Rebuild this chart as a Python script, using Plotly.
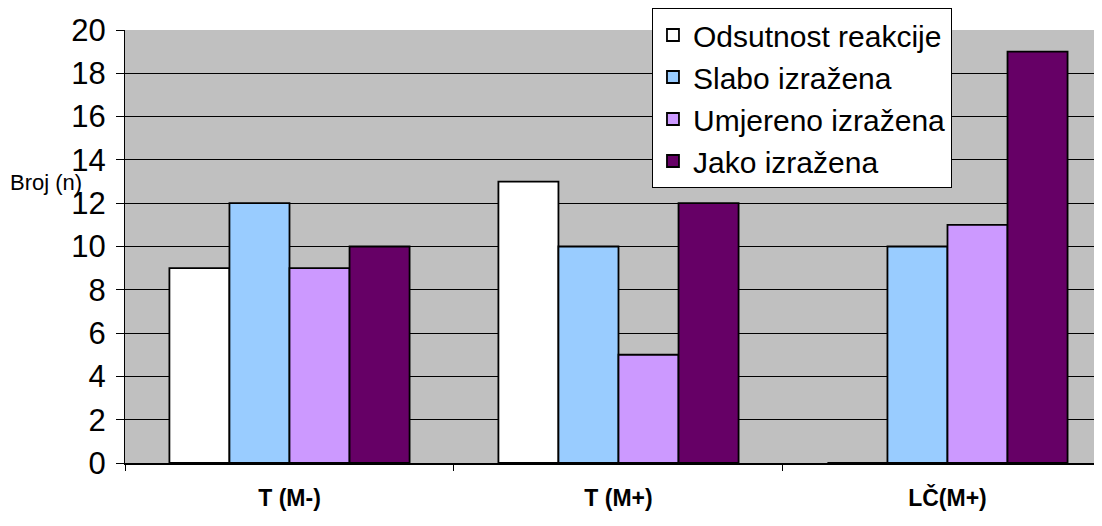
import plotly.graph_objects as go

# data
categories = ["T (M-)", "T (M+)", "LČ(M+)"]
series_names = ["Odsutnost reakcije", "Slabo izražena", "Umjereno izražena", "Jako izražena"]
odsutnost = [9, 13, 0]
slabo = [12, 10, 10]
umjereno = [9, 5, 11]
jako = [10, 12, 19]
colors = ["#FFFFFF", "#99CCFF", "#CC99FF", "#660066"]

fig = go.Figure()
for i, (name, vals) in enumerate(zip(series_names, [odsutnost, slabo, umjereno, jako])):
    fig.add_trace(go.Bar(
        x=categories, y=vals, name=name,
        marker=dict(color=colors[i], line=dict(color="black", width=1.8)),
    ))

# page has an 8px body margin, so offsets are shifted by -8
fig.update_layout(
    width=1102, height=526,
    barmode="group", bargap=0.27, bargroupgap=0,
    plot_bgcolor="#C0C0C0", paper_bgcolor="white",
    margin=dict(l=117, r=0, t=22, b=71),
    font=dict(family="Liberation Sans, Arial, sans-serif", color="black"),
    showlegend=True,
    legend=dict(
        x=0.535, y=1.051, xanchor="left", yanchor="top",
        bgcolor="white", bordercolor="black", borderwidth=1,
        font=dict(size=30), tracegroupgap=0,
    ),
)
fig.update_yaxes(
    range=[0, 20], dtick=2, tickfont=dict(size=31),
    showgrid=True, gridcolor="black", gridwidth=1,
    showline=True, linecolor="black", linewidth=1,
    ticks="outside", ticklen=8, tickcolor="black",
    ticklabelstandoff=4,
    zeroline=False,
)
fig.update_xaxes(
    range=[-0.5, 2.494],
    tickfont=dict(size=23),
    tickprefix="<b>", ticksuffix="</b>",
    showline=True, linecolor="black", linewidth=1.5,
    ticks="outside", tickson="boundaries", ticklen=6, tickcolor="black",
    ticklabelstandoff=14,
)
fig.add_annotation(
    text="Broj (n)", xref="paper", yref="paper",
    x=-0.1188, y=0.647, xanchor="left", yanchor="middle",
    showarrow=False, font=dict(size=22),
)

fig.write_html("out.html")
